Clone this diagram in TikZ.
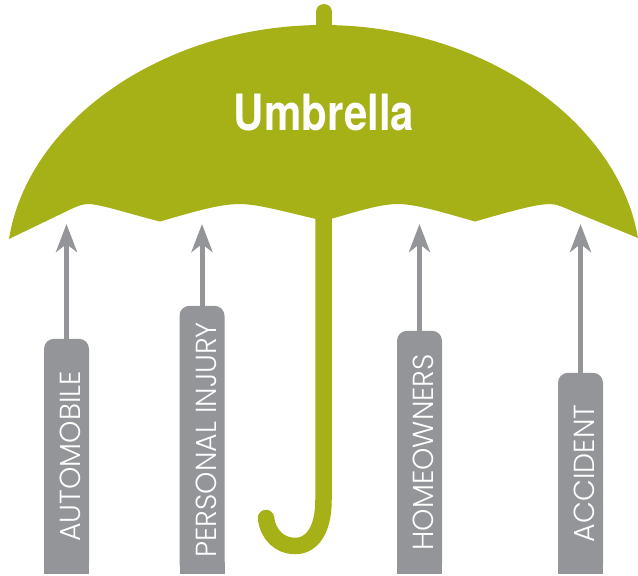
\documentclass[tikz,border=0pt]{standalone}
\usepackage{xcolor}
\usepackage{fontspec}
\usetikzlibrary{arrows.meta}
\setmainfont{Lato}
\newfontfamily\labelfont[FakeStretch=0.98]{Poppins Light}
\newfontfamily\titlefont[FakeStretch=0.84]{TeX Gyre Heros}
\definecolor{canopygreen}{HTML}{A6B118}
\definecolor{bargray}{HTML}{939598}

\begin{document}
\begin{tikzpicture}[x=1pt,y=-1pt]
  \tikzset{bar/.style={shape=rectangle,fill=bargray,rounded corners=10pt,rotate=90,anchor=west,text=white,font=\labelfont\fontsize{29}{29}\selectfont,inner sep=0pt,minimum height=45pt,text height=28pt,text depth=0pt}};
  \tikzset{pointer/.style={draw=bargray,line width=5pt,-{Stealth[length=28pt,width=21pt,inset=8pt]}}};
  \useasboundingbox (0,0) rectangle (638,576);
  % canopy, knob and handle
  \draw[canopygreen,line width=16pt,line cap=round] (324,12) -- (324,40);
  \fill[canopygreen] (9,239) .. controls (28,120) and (165,25) .. (323,25)
    .. controls (481,25) and (618,120) .. (638,238)
    -- (572,211) .. controls (563,207) and (556,204) .. (550,204)
    .. controls (535,204) and (505,213) .. (475,221.5)
    .. controls (445,213) and (416,204) .. (398,204)
    .. controls (380,204) and (355,212) .. (331,219)
    -- (316,219)
    .. controls (290,213) and (258,204) .. (240,204)
    .. controls (218,204) and (190,213) .. (160,221.5)
    .. controls (130,214) and (100,204) .. (88,204)
    .. controls (82,204) and (75,207) .. (65,212) -- cycle;
  \draw[canopygreen,line width=16.5pt,line cap=round] (323.5,215) -- (323.5,500)
    .. controls (323.5,530) and (312,546) .. (295,546)
    .. controls (280,546) and (268,535) .. (266,518);
  \node[text=white,font=\titlefont\bfseries\fontsize{50}{50}\selectfont,inner sep=0pt] (title) at (324,113) {Umbrella};
  % bars, top corners rounded only
  \node[bar,minimum width=235pt] (auto) at (66.5,574) {AUTOMOBILE};
  \node[bar,minimum width=268pt] (injury) at (202,574) {PERSONAL INJURY};
  \node[bar,minimum width=243pt] (home) at (419.5,574) {HOMEOWNERS};
  \node[bar,minimum width=201pt] (accident) at (580.5,574) {ACCIDENT};
  \foreach \bar in {auto,injury,home,accident}
    \fill[bargray] ([xshift=-22.5pt]\bar.west) rectangle ([xshift=22.5pt,yshift=12pt]\bar.west);
  % arrows up to the canopy
  \coordinate (autotip) at (66.5,224);
  \coordinate (injurytip) at (202,224);
  \coordinate (hometip) at (419.5,224);
  \coordinate (accidenttip) at (580.5,224);
  \draw[pointer] (auto.east) -- (autotip);
  \draw[pointer] (injury.east) -- (injurytip);
  \draw[pointer] (home.east) -- (hometip);
  \draw[pointer] (accident.east) -- (accidenttip);
\end{tikzpicture}
\end{document}
